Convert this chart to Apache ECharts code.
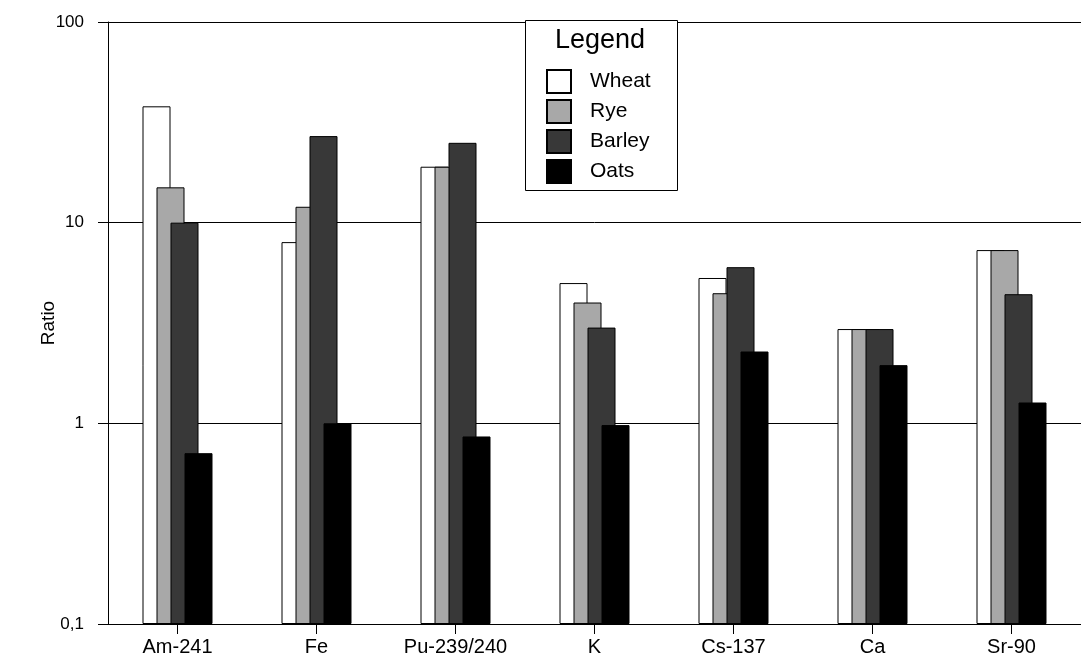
<!DOCTYPE html>
<html>
<head>
<meta charset="utf-8">
<script src="https://cdn.jsdelivr.net/npm/echarts@6/dist/echarts.min.js"></script>
<style>
html,body{margin:0;padding:0;background:#fff;}
#chart{width:1081px;height:667px;}
</style>
</head>
<body>
<div id="chart"></div>
<script>
const categories = ['Am-241', 'Fe', 'Pu-239/240', 'K', 'Cs-137', 'Ca', 'Sr-90'];
const wheat  = [38, 8.0, 19, 5.0, 5.3, 2.95, 7.3];
const rye    = [15, 12, 19, 4.0, 4.45, 2.95, 7.3];
const barley = [10, 27, 25, 3.0, 6.0, 2.95, 4.4];
const oats   = [0.71, 1.0, 0.86, 0.98, 2.28, 1.95, 1.27];
const yTickValues = [0.1, 1, 10, 100];
const yTickLabels = ['0,1', '1', '10', '100'];

const FONT = '"Liberation Sans", Arial, Helvetica, sans-serif';
const LOG_BASE_VALUE = yTickValues[0]; // bars rise from the axis minimum 0,1
const chart = echarts.init(document.getElementById('chart'), null, {renderer: 'canvas'});

// Logarithmic value axis: each value is placed at log10(value / 0,1) decades above the axis floor.
function toDecades(v) { return Math.log10(v / LOG_BASE_VALUE); }

function barSeries(name, data, color, z) {
  return {
    name: name,
    type: 'bar',
    data: data.map(toDecades),
    barWidth: 28,
    barGap: '-50%',
    barCategoryGap: '50%',
    z: z,
    itemStyle: { color: color, borderColor: '#000', borderWidth: 1 },
    emphasis: { disabled: true },
    animation: false
  };
}

chart.setOption({
  backgroundColor: '#fff',
  animation: false,
  grid: { left: 108, right: -10, top: 22, bottom: 43, containLabel: false },
  xAxis: {
    type: 'category',
    data: categories,
    boundaryGap: true,
    axisLine: { show: true, onZero: false, lineStyle: { color: '#000', width: 1 } },
    axisTick: { show: true, alignWithLabel: true, interval: 0, length: 10, lineStyle: { color: '#000' } },
    axisLabel: { color: '#000', fontSize: 20, fontFamily: FONT, margin: 13, interval: 0, hideOverlap: false },
    splitLine: { show: false }
  },
  yAxis: {
    type: 'value',
    min: toDecades(yTickValues[0]),
    max: toDecades(yTickValues[yTickValues.length - 1]),
    interval: 1,
    name: 'Ratio',
    nameLocation: 'middle',
    nameGap: 50,
    nameRotate: 90,
    nameMoveOverlap: false,
    nameTextStyle: { color: '#000', fontSize: 19, fontFamily: FONT },
    axisLine: { show: true, lineStyle: { color: '#000', width: 1 } },
    axisTick: { show: true, inside: false, length: 10, lineStyle: { color: '#000' } },
    axisLabel: {
      color: '#000', fontSize: 17, fontFamily: FONT, margin: 24,
      formatter: function (v) { return yTickLabels[Math.round(v)]; }
    },
    splitLine: { show: true, lineStyle: { color: '#000', width: 1 } }
  },
  legend: {
    orient: 'vertical',
    left: 541,
    top: 64,
    z: 10,
    itemWidth: 24,
    itemHeight: 23,
    itemGap: 5,
    icon: 'rect',
    textStyle: { color: '#000', fontSize: 21, fontFamily: FONT, padding: [0, 0, 0, 14] },
    selectedMode: false,
    data: ['Wheat', 'Rye', 'Barley', 'Oats']
  },
  graphic: [
    { type: 'rect', left: 525, top: 20, z: 3,
      shape: { width: 152, height: 170 },
      style: { fill: '#fff', stroke: '#000', lineWidth: 1 } },
    { type: 'text', left: 555, top: 27, z: 11,
      style: { text: 'Legend', fill: '#000', font: '27px ' + FONT } }
  ],
  series: [
    barSeries('Wheat', wheat, '#ffffff', 2),
    barSeries('Rye', rye, '#a8a8a8', 3),
    barSeries('Barley', barley, '#383838', 4),
    barSeries('Oats', oats, '#000000', 5)
  ]
});
</script>
</body>
</html>
